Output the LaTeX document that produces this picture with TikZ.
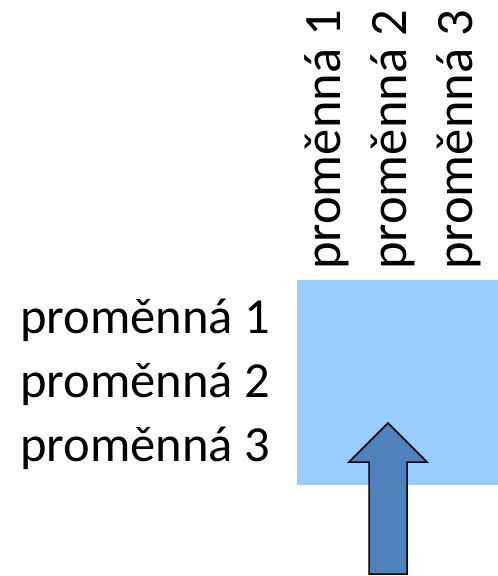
\documentclass[tikz,border=0pt]{standalone}
\usepackage{fontspec}
\setmainfont{Carlito}
\definecolor{boxblue}{HTML}{99CCFF}
\definecolor{arrowblue}{HTML}{4F81BD}
\begin{document}
\begin{tikzpicture}[x=1pt,y=-1pt,
  rowlab/.style={anchor=base west,inner sep=0pt,font=\fontsize{50.5}{60}\selectfont},
  collab/.style={anchor=base west,rotate=90,inner sep=0pt,font=\fontsize{52.5}{62}\selectfont},
  upblock/.style={draw=black,line width=1.5pt,fill=arrowblue,line join=miter}]
\useasboundingbox (0,0) rectangle (498,576);
\node[fill=boxblue,inner sep=0pt,minimum width=201pt,minimum height=205pt,anchor=north west] (mat) at (297,280) {};
\node[rowlab] (r1) at (20,333) {proměnná 1};
\node[rowlab] (r2) at (20,397) {proměnná 2};
\node[rowlab] (r3) at (20,461) {proměnná 3};
\node[collab] (c1) at (340,270) {proměnná 1};
\node[collab] (c2) at (406,270) {proměnná 2};
\node[collab] (c3) at (472,270) {proměnná 3};
\draw[upblock] (388,423) -- (427,462) -- (407,462) -- (407,574) -- (369,574) -- (369,462) -- (349,462) -- cycle;
\end{tikzpicture}
\end{document}
